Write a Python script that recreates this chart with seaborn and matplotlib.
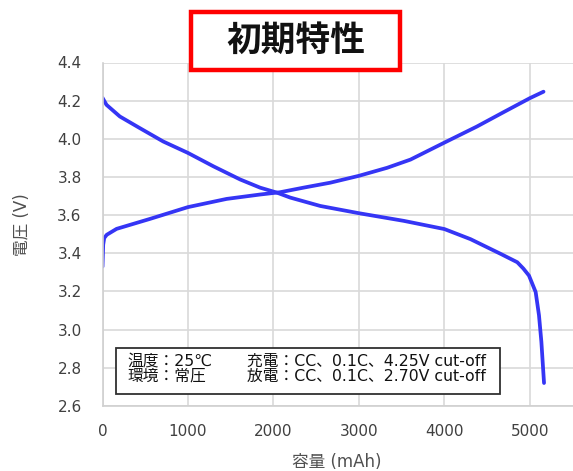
import matplotlib
matplotlib.use("Agg")
import matplotlib.pyplot as plt
from matplotlib.patches import Rectangle
import seaborn as sns
import pandas as pd

# Discharge curve: capacity (mAh) vs voltage (V)
discharge_cap = [0, 47, 203, 437, 710, 1000, 1297, 1610, 1844, 2040, 2196, 2548,
                 3000, 3524, 4000, 4306, 4658, 4853, 4924, 4990, 5068, 5107, 5135, 5166]
discharge_v = [4.215, 4.178, 4.117, 4.056, 3.986, 3.926, 3.856, 3.787, 3.744, 3.718, 3.692, 3.648,
               3.610, 3.570, 3.527, 3.474, 3.397, 3.353, 3.320, 3.283, 3.197, 3.075, 2.936, 2.72]

# Charge curve: capacity (mAh) vs voltage (V)
charge_cap = [0, 8, 20, 50, 165, 554, 1000, 1453, 1844, 2078, 2352, 2665, 3000,
              3330, 3603, 4000, 4379, 4690, 5000, 5160]
charge_v = [3.33, 3.445, 3.48, 3.497, 3.528, 3.580, 3.642, 3.685, 3.708, 3.720, 3.744, 3.770, 3.806,
            3.848, 3.891, 3.980, 4.064, 4.139, 4.213, 4.247]

x_ticks = [0, 1000, 2000, 3000, 4000, 5000]
y_ticks = [2.6, 2.8, 3.0, 3.2, 3.4, 3.6, 3.8, 4.0, 4.2, 4.4]

title = "初期特性"
x_label = "容量 (mAh)"
y_label = "電圧 (V)"
note_left = ["温度：25℃", "環境：常圧"]
note_right = ["充電：CC、0.1C、4.25V cut-off", "放電：CC、0.1C、2.70V cut-off"]

sns.set_style("whitegrid")
plt.rcParams["font.family"] = ["DejaVu Sans", "Noto Sans CJK JP"]

W, H = 573, 471
fig = plt.figure(figsize=(W / 100, H / 100), dpi=100)
ax = fig.add_axes([102.5 / W, 1 - 405.9 / H, 1 - 102.5 / W, (405.9 - 62.5) / H])

line_color = "#3535f5"
df_dis = pd.DataFrame({"cap": discharge_cap, "v": discharge_v})
df_chg = pd.DataFrame({"cap": charge_cap, "v": charge_v})
for df in (df_dis, df_chg):
    sns.lineplot(data=df, x="cap", y="v", ax=ax, color=line_color, lw=2.7,
                 sort=False, estimator=None, solid_joinstyle="round",
                 solid_capstyle="round")

ax.set_xlim(0, 5505)
ax.set_ylim(2.6, 4.4)
ax.set_xticks(x_ticks)
ax.set_yticks(y_ticks)
ax.set_yticklabels([f"{t:.1f}" for t in y_ticks])
ax.tick_params(axis="both", length=0, labelsize=11, labelcolor="#404040")
ax.tick_params(axis="x", pad=13)
ax.tick_params(axis="y", pad=15)
ax.grid(True, color="#d9d9d9", lw=1.2)
ax.set_xlabel("")
ax.set_ylabel("")
for side in ["top", "right"]:
    ax.spines[side].set_visible(False)
for side in ["left", "bottom"]:
    ax.spines[side].set_color("#d0d0d0")
    ax.spines[side].set_linewidth(1.2)

fig.text(337 / W, 1 - 462 / H, x_label, ha="center", va="center",
         fontsize=12, color="#505050")
fig.text(22 / W, 1 - 225 / H, y_label, ha="center", va="center",
         rotation=90, fontsize=12, color="#505050")

# Condition note box
fig.add_artist(Rectangle((116 / W, 1 - 394 / H), (500 - 116) / W, (394 - 348) / H,
                         transform=fig.transFigure, facecolor="white",
                         edgecolor="#303030", lw=1.3, zorder=3))
for i, (a, b) in enumerate(zip(note_left, note_right)):
    yy = 1 - (361 + 15 * i) / H
    fig.text(127 / W, yy, a, ha="left", va="center", fontsize=11.3, color="#111111", zorder=4)
    fig.text(247 / W, yy, b, ha="left", va="center", fontsize=11.3, color="#111111", zorder=4)

# Title box
fig.add_artist(Rectangle((191 / W, 1 - 70 / H), (400 - 191) / W, (70 - 12) / H,
                         transform=fig.transFigure, facecolor="white",
                         edgecolor="#ff0000", lw=3.2, zorder=3))
fig.text(296 / W, 1 - 41 / H, title, ha="center", va="center", fontsize=25,
         fontweight="bold", color="#111111", zorder=4)

fig.savefig("out.png", dpi=100)
